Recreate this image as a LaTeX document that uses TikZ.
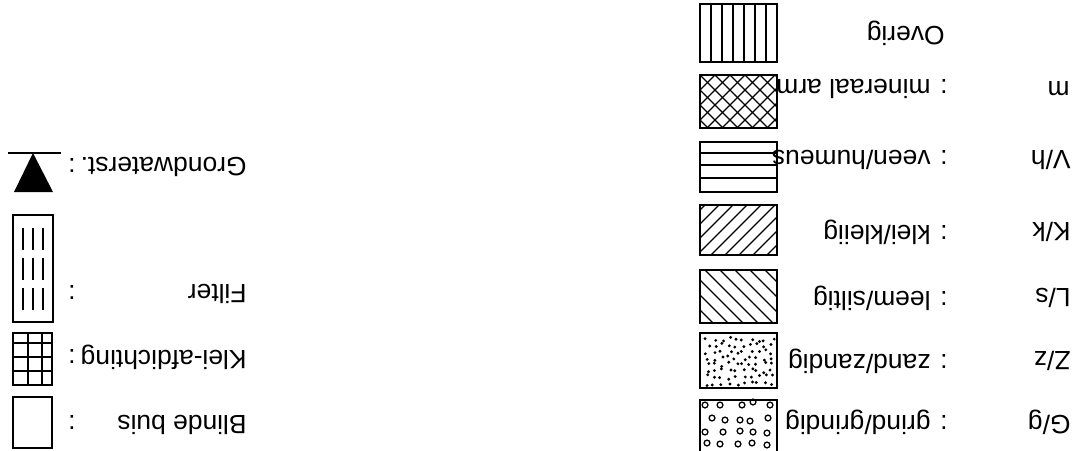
\documentclass[tikz,border=0pt]{standalone}
\usepackage{fontspec}
\setmainfont{Liberation Sans}
\begin{document}
\begin{tikzpicture}[x=0.5pt,y=-0.5pt,
  box/.style={draw, line width=0.85pt},
  hatch/.style={line width=0.65pt},
  lbl/.style={rotate=180, anchor=west, inner sep=0pt, font=\fontsize{13.2}{15}\selectfont},
  col/.style={rotate=180, anchor=center, inner sep=0pt, font=\fontsize{13.2}{15}\selectfont}]
\useasboundingbox (0,0) rectangle (1076,450);

% ---------- right column: soil legend ----------
% Overig: vertical stripes
\foreach \xx in {711,722,733,744,755,766} \draw[hatch] (\xx,4) -- (\xx,62);
\draw[box] (700,4) rectangle (777,62);

% mineraal arm: cross hatch
\begin{scope}
  \clip (700,75) rectangle (777,128);
  \foreach \i in {-5,...,6} {
    \draw[hatch] (700+\i*15,75) -- ++(60,60);
    \draw[hatch] (790+\i*15,75) -- ++(-60,60);
  }
\end{scope}
\draw[box] (700,75) rectangle (777,128);

% veen/humeus: horizontal lines
\foreach \yy in {153,165,178} \draw[hatch] (700,\yy) -- (777,\yy);
\draw[box] (700,142) rectangle (777,192);

% klei/kleiig: "/" lines
\begin{scope}
  \clip (700,205) rectangle (777,255);
  \foreach \i in {0,...,10} \draw[hatch] (705+\i*14,205) -- ++(-60,60);
\end{scope}
\draw[box] (700,205) rectangle (777,255);

% leem/siltig: "\" lines
\begin{scope}
  \clip (700,270) rectangle (777,323);
  \foreach \i in {-5,...,5} \draw[hatch] (705+\i*15,270) -- ++(60,60);
\end{scope}
\draw[box] (700,270) rectangle (777,323);

% zand/zandig: dots (jittered grid)
\pgfmathsetseed{23}
\foreach \cc in {0,...,9} {
  \foreach \rr in {0,...,7} {
    \pgfmathsetmacro\dx{705+\cc*7.2+5*rnd}
    \pgfmathsetmacro\dy{337+\rr*6.3+4.5*rnd}
    \fill (\dx,\dy) circle[radius=0.8pt];
  }
}
\draw[box] (700,333) rectangle (777,388);

% grind/grindig: small circles
\foreach \cx/\cy in {705/405,720/405,742/405,753/402,770/405,
                     712/418,725/420,740/420,750/421,768/418,
                     705/432,723/432,740/431,753/432,767/433,
                     707/443,720/444,738/444,752/443,767/445}
  \draw[hatch] (\cx,\cy) circle[radius=1.45pt];
\draw[box] (700,400) rectangle (777,453);

% texts right column
\node[lbl] (ov)  at (945,33)  {Overig};
\node[lbl] (ma)  at (948,89)  {: mineraal arm};
\node[lbl] (vh)  at (948,160) {: veen/humeus};
\node[lbl] (kk)  at (948,232) {: klei/kleiig};
\node[lbl] (ls)  at (948,298) {: leem/siltig};
\node[lbl] (zz)  at (948,361) {: zand/zandig};
\node[lbl] (gg)  at (948,422) {: grind/grindig};

\node[lbl] (am)  at (1070,89)  {m};
\node[lbl] (avh) at (1071,160) {V/h};
\node[lbl] (akk) at (1071,232) {K/k};
\node[lbl] (als) at (1071,298) {L/s};
\node[lbl] (azz) at (1071,361) {Z/z};
\node[lbl] (agg) at (1071,422) {G/g};

% ---------- left column ----------
% Grondwaterstand symbol
\draw[line width=0.7pt] (8,153) -- (61,153);
\fill (33,153) -- (53,192) -- (14,192) -- cycle;

% Filter
\foreach \xx in {23,33,43}
  \draw[hatch, dash pattern=on 11pt off 4pt] (\xx,228) -- (\xx,314);
\draw[box] (13,215) rectangle (53,322);

% Klei-afdichting: grid
\foreach \xx in {28,42} \draw[line width=0.9pt] (\xx,333) -- (\xx,385);
\foreach \yy in {343,357,371} \draw[line width=0.9pt] (13,\yy) -- (52,\yy);
\draw[box, line width=1pt] (13,333) rectangle (52,385);

% Blinde buis
\draw[box] (13,397) rectangle (52,448);

% texts left column
\node[lbl] (gw) at (247,167) {Grondwaterst.};
\node[lbl] (fi) at (247,294) {Filter};
\node[lbl] (kl) at (247,357) {Klei-afdichting};
\node[lbl] (bb) at (247,425) {Blinde buis};

\node[col] (c1) at (72,165) {:};
\node[col] (c2) at (72,292) {:};
\node[col] (c3) at (72,356) {:};
\node[col] (c4) at (72,422) {:};
\end{tikzpicture}
\end{document}
